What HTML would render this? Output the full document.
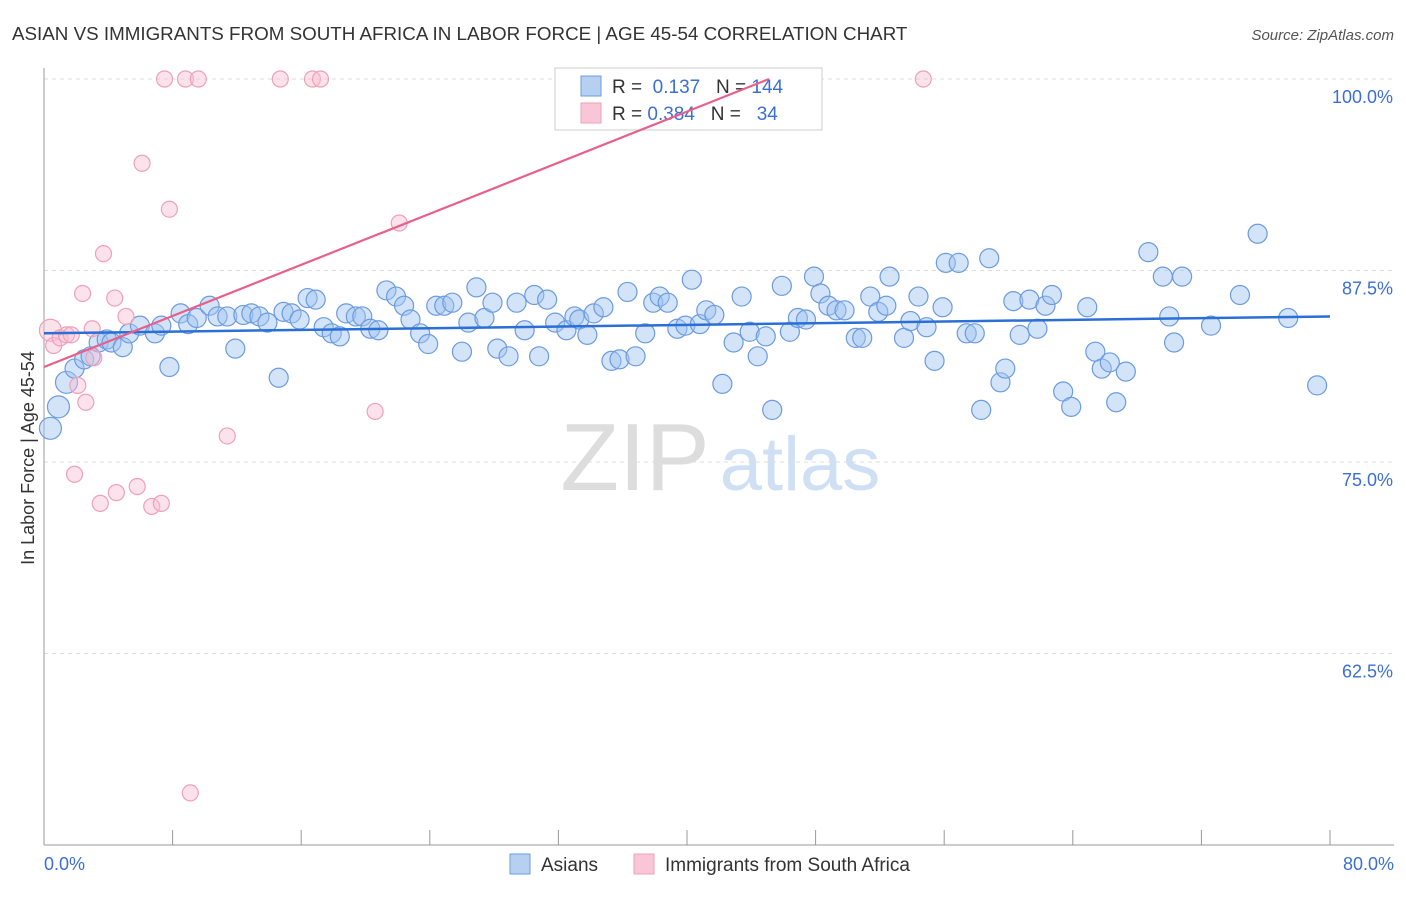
<!DOCTYPE html>
<html><head><meta charset="utf-8"><style>
body{margin:0;background:#fff;font-family:"Liberation Sans",sans-serif}
svg text{font-family:"Liberation Sans",sans-serif}
</style></head><body>
<svg id="c" width="1406" height="892">
<text x="12" y="40" font-size="18.8" fill="#333">ASIAN VS IMMIGRANTS FROM SOUTH AFRICA IN LABOR FORCE | AGE 45-54 CORRELATION CHART</text>
<text x="1394" y="40" font-size="15" fill="#555" text-anchor="end" font-style="italic">Source: ZipAtlas.com</text>
<text x="34" y="458" font-size="18" fill="#333" text-anchor="middle" transform="rotate(-90 34 458)">In Labor Force | Age 45-54</text>
<g><text x="635" y="490" font-size="96" fill="#ddd" font-family="Liberation Serif" text-anchor="middle">ZIP</text><text x="800" y="490" font-size="76" fill="#cfe0f4" text-anchor="middle">atlas</text></g>
<g id="grid"></g><g id="axes"></g><g id="pts"></g>
<g>
<rect x="555" y="68" width="267" height="62" fill="#fff" stroke="#ccc"/>
<rect x="581" y="76" width="20" height="20" fill="#b7d0f2" stroke="#6b9be0"/>
<rect x="581" y="103" width="20" height="20" fill="#f8c6d6" stroke="#f0a0b8"/>
<text x="612" y="93" font-size="19" fill="#333">R = <tspan fill="#3b6fd4">&#160;0.137</tspan>&#160;&#160;&#160;N = <tspan fill="#3b6fd4">144</tspan></text>
<text x="612" y="120" font-size="19" fill="#333">R = <tspan fill="#3b6fd4">0.384</tspan>&#160;&#160;&#160;N = <tspan fill="#3b6fd4">&#160;&#160;34</tspan></text>
</g>
<g id="lines"></g>
<g>
<rect x="510" y="854" width="20" height="20" fill="#b7d0f2" stroke="#6b9be0"/>
<text x="541" y="871" font-size="19" fill="#333">Asians</text>
<rect x="634" y="854" width="20" height="20" fill="#f8c6d6" stroke="#f0a0b8"/>
<text x="665" y="871" font-size="19" fill="#333">Immigrants from South Africa</text>
</g>
</svg>
<script>
const yTicks=[100,87.5,75,62.5];
const yTickLabels=["100.0%","87.5%","75.0%","62.5%"];
const asiansX=[0.4,0.9,1.4,1.9,2.5,2.9,3.4,3.9,4.2,4.9,5.3,5.97,6.9,7.3,7.8,8.5,8.97,9.5,10.3,10.8,11.4,11.9,12.4,12.9,13.4,13.9,14.6,14.9,15.4,15.9,16.4,16.9,17.4,17.9,18.4,18.8,19.4,19.8,20.3,20.8,21.3,21.9,22.4,22.8,23.4,23.9,24.4,24.9,25.4,26.0,26.4,26.9,27.4,27.9,28.2,28.9,29.4,29.9,30.5,30.8,31.3,31.8,32.5,33.0,33.3,33.8,34.2,34.8,35.3,35.8,36.3,36.8,37.4,37.9,38.3,38.8,39.4,39.9,40.3,40.8,41.2,41.7,42.2,42.9,43.4,43.9,44.4,44.9,45.3,45.9,46.4,46.9,47.4,47.9,48.3,48.8,49.3,49.8,50.5,50.9,51.4,51.9,52.4,52.6,53.5,53.9,54.4,54.9,55.4,55.9,56.1,56.9,57.4,57.9,58.3,58.8,59.5,59.8,60.3,60.7,61.3,61.8,62.3,62.7,63.4,63.9,64.9,65.4,65.8,66.3,66.7,67.3,68.7,69.6,70.0,70.3,70.8,72.6,74.4,75.5,77.4,79.2];
const asiansY=[77.2,78.6,80.2,81.1,81.7,81.9,82.8,83.0,82.8,82.5,83.4,83.9,83.4,83.9,81.2,84.7,84.0,84.4,85.2,84.5,84.5,82.4,84.6,84.7,84.5,84.1,80.5,84.8,84.7,84.3,85.7,85.6,83.8,83.4,83.2,84.7,84.5,84.5,83.7,83.6,86.2,85.8,85.2,84.3,83.4,82.7,85.2,85.2,85.4,82.2,84.1,86.4,84.4,85.4,82.4,81.9,85.4,83.6,85.9,81.9,85.6,84.1,83.6,84.5,84.3,83.3,84.7,85.1,81.6,81.7,86.1,81.9,83.4,85.4,85.8,85.4,83.7,83.9,86.9,84.0,84.9,84.6,80.1,82.8,85.8,83.5,81.9,83.2,78.4,86.5,83.5,84.4,84.3,87.1,86.0,85.2,84.9,84.9,83.1,83.1,85.8,84.8,85.2,87.1,83.1,84.2,85.8,83.8,81.6,85.1,88.0,88.0,83.4,83.4,78.4,88.3,80.2,81.1,85.5,83.3,85.6,83.7,85.2,85.9,79.6,78.6,85.1,82.2,81.1,81.5,78.9,80.9,88.7,87.1,84.5,82.8,87.1,83.9,85.9,89.9,84.4,80.0];
const immX=[0.4,0.6,1.0,1.4,1.7,3.0,3.1,2.1,2.6,2.4,3.7,4.4,5.1,6.1,7.8,1.9,3.5,4.5,5.8,6.7,7.3,7.5,8.8,9.6,14.7,16.7,17.2,22.1,20.6,11.4,9.1,54.7];
const immY=[83.6,82.6,83.1,83.3,83.3,83.7,81.8,80.0,78.9,86.0,88.6,85.7,84.5,94.5,91.5,74.2,72.3,73.0,73.4,72.1,72.3,100,100,100,100,100,100,90.6,78.3,76.7,53.4,100];
const asiansTrend=[83.4,84.5];
const immTrend=[81.2,100];
const immTrendEndX=45.1;

const svg=document.getElementById('c'),NS="http://www.w3.org/2000/svg";
const X0=44,X1=1330,Y100=79,PX=191.5/12.5;
const sx=v=>X0+(X1-X0)*v/80, sy=v=>Y100+(100-v)*PX;
function mk(t,a,p){const e=document.createElementNS(NS,t);for(const k in a)e.setAttribute(k,a[k]);p.appendChild(e);return e;}
const grid=document.getElementById('grid'),axes=document.getElementById('axes');
yTicks.forEach((v,i)=>{
 const l=mk('line',{x1:X0,x2:1394,y1:sy(v),y2:sy(v),stroke:'#ddd','stroke-dasharray':'4 4'},grid);
 
 
 const t=mk('text',{x:1393,y:sy(v)+24,'font-size':18,fill:'#3b6fd4','text-anchor':'end'},axes);
 t.textContent=yTickLabels[i];
 
 
});
mk('line',{x1:X0,x2:X0,y1:68,y2:845,stroke:'#999'},axes);
mk('line',{x1:X0,x2:1394,y1:845,y2:845,stroke:'#999'},axes);
for(let i=0;i<=10;i++){mk('line',{x1:sx(i*8),x2:sx(i*8),y1:830,y2:845,stroke:'#999'},axes);}
[[0,'0.0%','start',44],[80,'80.0%','end',1394]].forEach(d=>{
 const t=mk('text',{x:d[3],y:870,'font-size':18,fill:'#3b6fd4','text-anchor':d[2]},axes);t.textContent=d[1];
 
 
});
const pts=document.getElementById('pts');
asiansX.forEach((x,i)=>{
 const c=mk('circle',{cx:sx(x),cy:sy(asiansY[i]),r:i<3?11:9.5,fill:'rgba(160,196,240,0.45)',stroke:'#6b9be0','stroke-width':1.2},pts);
 
 
});
immX.forEach((x,i)=>{
 const c=mk('circle',{cx:sx(x),cy:sy(immY[i]),r:i==0?11:8,fill:'rgba(248,190,210,0.45)',stroke:'#f0a0b8','stroke-width':1.2},pts);
 
 
});
const lines=document.getElementById('lines');
const b=mk('line',{x1:sx(0),y1:sy(asiansTrend[0]),x2:sx(80),y2:sy(asiansTrend[1]),stroke:'#2a6fd6','stroke-width':2.5},lines);


const p=mk('line',{x1:sx(0),y1:sy(immTrend[0]),x2:sx(immTrendEndX),y2:sy(immTrend[1]),stroke:'#e8608a','stroke-width':2.2},lines);


</script>
</body></html>
